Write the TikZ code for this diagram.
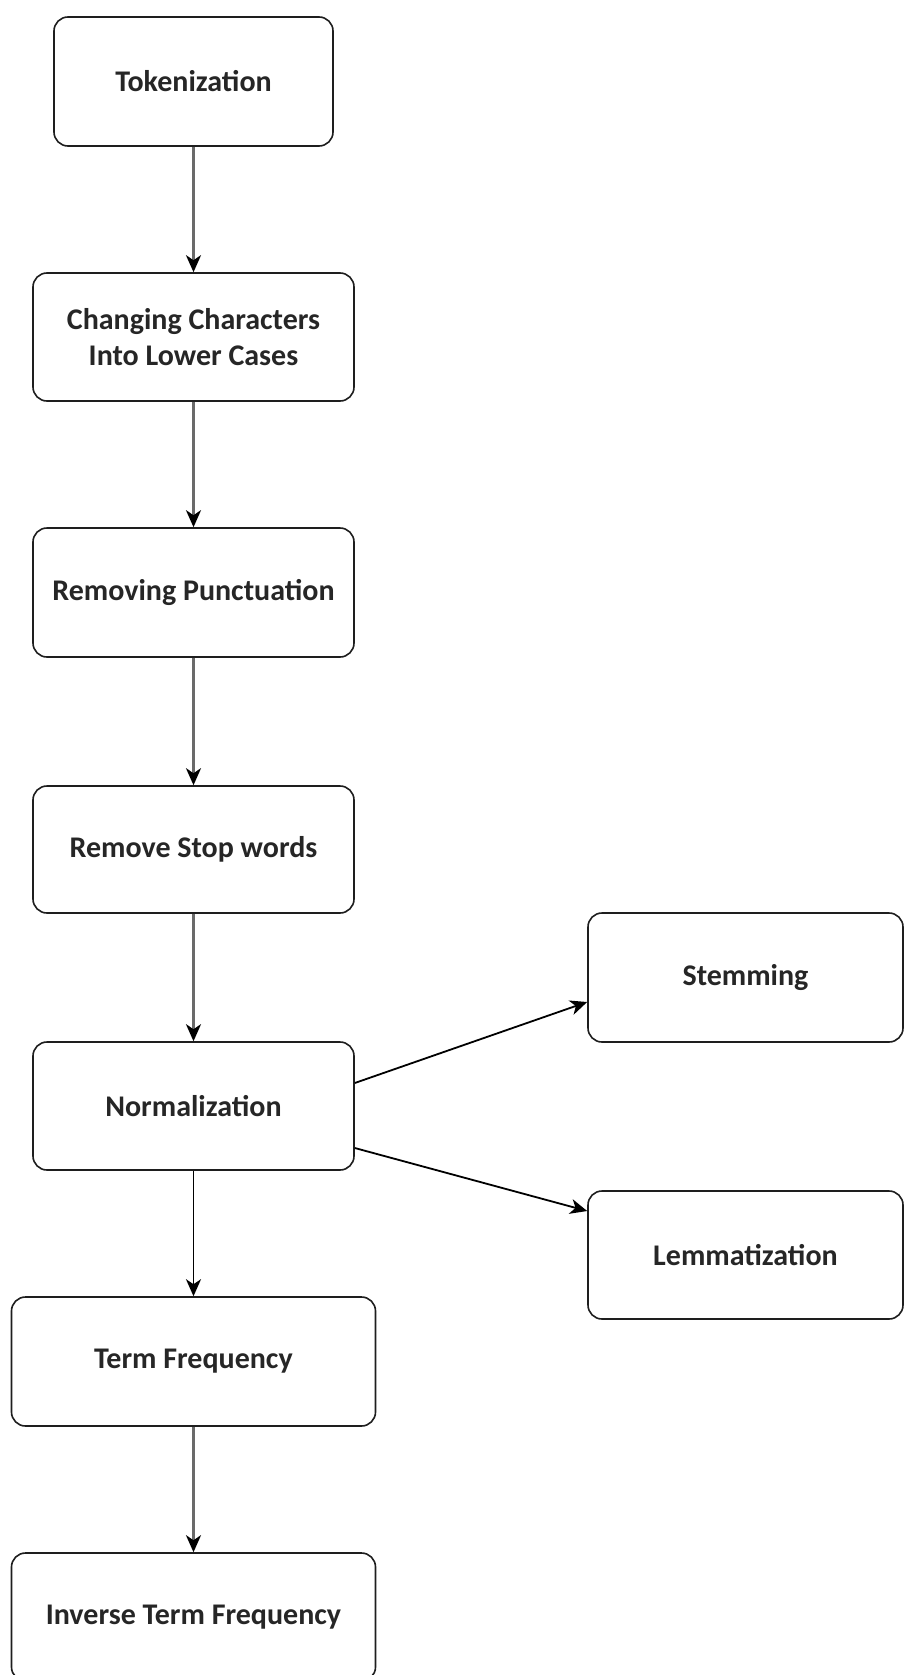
\documentclass[tikz,border=0pt]{standalone}
\usepackage{fontspec}
\setmainfont{Carlito}
\usetikzlibrary{arrows.meta,calc}
\definecolor{boxline}{HTML}{1E1E1E}
\definecolor{txt}{HTML}{262626}
\definecolor{flowgrey}{HTML}{6A6A6A}
\begin{document}
\begin{tikzpicture}[x=1pt,y=-1pt,
  stepbox/.style={draw=boxline, line width=1.6pt, rounded corners=14pt,
    fill=white, align=center, text=txt, inner sep=0pt,
    font=\fontsize{30}{36}\selectfont\bfseries},
  flow/.style={draw=flowgrey, line width=2.2pt,
    -{Stealth[length=17pt,width=15pt,inset=5pt,color=black]}},
  branch/.style={draw=black, line width=1.8pt,
    -{Stealth[length=17pt,width=15pt,inset=5pt]}}]
\useasboundingbox (0,0) rectangle (904,1675);
\fill[white] (0,0) rectangle (904,1675);

% main pipeline
\node[stepbox, minimum width=279pt, minimum height=129pt] (tok) at (193.5,81.5) {Tokenization};
\node[stepbox, minimum width=321pt, minimum height=128pt] (chg) at (193.5,337) {Changing Characters\\Into Lower Cases};
\node[stepbox, minimum width=321pt, minimum height=129pt] (pun) at (193.5,592.5) {Removing Punctuation};
\node[stepbox, minimum width=321pt, minimum height=127pt] (stop) at (193.5,849.5) {Remove Stop words};
\node[stepbox, minimum width=321pt, minimum height=128pt] (norm) at (193.5,1106) {Normalization};
\node[stepbox, minimum width=364pt, minimum height=129pt] (tf) at (193.5,1361.5) {Term Frequency};
\node[stepbox, minimum width=364pt, minimum height=128pt] (itf) at (193.5,1617) {Inverse Term Frequency};

% normalization variants
\node[stepbox, minimum width=315pt, minimum height=129pt] (stem) at (745.5,977.5) {Stemming};
\node[stepbox, minimum width=315pt, minimum height=128pt] (lem) at (745.5,1255) {Lemmatization};

\draw[flow] (tok) -- (chg);
\draw[flow] (chg) -- (pun);
\draw[flow] (pun) -- (stop);
\draw[flow] (stop) -- (norm);
\draw[branch] (norm) -- (tf);
\draw[flow] (tf) -- (itf);

\draw[branch] ($(norm.east)+(0,-23)$) -- ($(stem.west)+(0,24.5)$);
\draw[branch] ($(norm.east)+(0,42)$) -- ($(lem.west)+(0,-44)$);
\end{tikzpicture}
\end{document}
